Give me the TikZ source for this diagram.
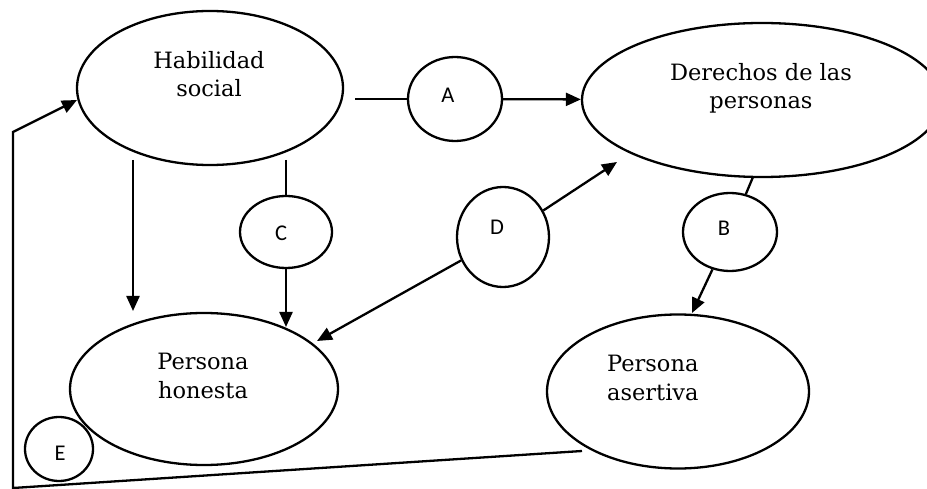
\documentclass[tikz,border=0pt]{standalone}
\usepackage{fontspec}
\setmainfont{DejaVu Serif}
\newfontfamily\letterfont{Carlito}
\usetikzlibrary{shapes.geometric,arrows.meta}

\begin{document}
\begin{tikzpicture}[x=1pt,y=-1pt,
  concept/.style={draw, ellipse, line width=2.3pt, inner sep=0pt},
  tag/.style={draw, ellipse, line width=2.3pt, inner sep=0pt},
  tagtext/.style={font=\letterfont\fontsize{22.5}{26}\selectfont, inner sep=0pt},
  conctext/.style={font=\fontsize{22.5}{28.5}\selectfont, align=center, inner sep=0pt, anchor=north},
  link/.style={line width=2.3pt},
  arrowlink/.style={link, -{Triangle[length=15pt,width=13pt]}},
]
\useasboundingbox (0,0) rectangle (927,489);
\clip (0,0) rectangle (927,489);

% concept ellipses
\node[concept, minimum width=266pt, minimum height=154pt] (HS) at (210,88) {};
\node[concept, minimum width=360pt, minimum height=154pt] (DP) at (762,100) {};
\node[concept, minimum width=268pt, minimum height=152pt] (PH) at (204,389) {};
\node[concept, minimum width=262pt, minimum height=154pt] (PA) at (678,391.5) {};

% concept texts
\node[conctext] (hs-text) at (209,51) {Habilidad\\social};
\node[conctext] (dp-text) at (761,63) {Derechos de las\\personas};
\node[conctext] (ph-text) at (203,353) {Persona\\honesta};
\node[conctext, align=left, anchor=north west] (pa-text) at (607,355) {Persona\\asertiva};

% lettered circles
\node[tag, minimum width=94pt, minimum height=84pt,
      label={[tagtext, xshift=-7pt, yshift=4pt]center:A}] (A) at (455,99) {};
\node[tag, minimum width=94pt, minimum height=78pt,
      label={[tagtext, xshift=-6pt, yshift=4pt]center:B}] (B) at (730,232) {};
\node[tag, minimum width=92pt, minimum height=72pt,
      label={[tagtext, xshift=-5pt, yshift=-1pt]center:C}] (C) at (286,232) {};
\node[tag, minimum width=92pt, minimum height=100pt,
      label={[tagtext, xshift=-6pt, yshift=10pt]center:D}] (D) at (503,237) {};
\node[tag, minimum width=68pt, minimum height=64pt,
      label={[tagtext, xshift=1pt, yshift=-4pt]center:E}] (E) at (59,449) {};

% free connector ends
\coordinate (a0) at (355,99);
\coordinate (hs1) at (133,160);
\coordinate (ph1) at (133,311);
\coordinate (c0) at (286,160);
\coordinate (c1) at (286,327);
\coordinate (d1) at (617,162);
\coordinate (d2) at (317,341);
\coordinate (b0) at (753,177);
\coordinate (pa1) at (692,313);
\coordinate (e0) at (582,451);
\coordinate (lp1) at (13,488);
\coordinate (lp2) at (13,132);
\coordinate (hs2) at (77,100);

% connectors
\draw[link] (a0) -- (A);
\draw[arrowlink] (A) -- (DP);
\draw[arrowlink] (hs1) -- (ph1);
\draw[link] (c0) -- (C.north);
\draw[arrowlink] (C.south) -- (c1);
\draw[arrowlink] (D) -- (d1);
\draw[arrowlink] (D) -- (d2);
\draw[link] (b0) -- (B);
\draw[arrowlink] (B) -- (pa1);
\draw[arrowlink, line join=miter] (e0) -- (lp1) -- (lp2) -- (hs2);
\end{tikzpicture}
\end{document}
